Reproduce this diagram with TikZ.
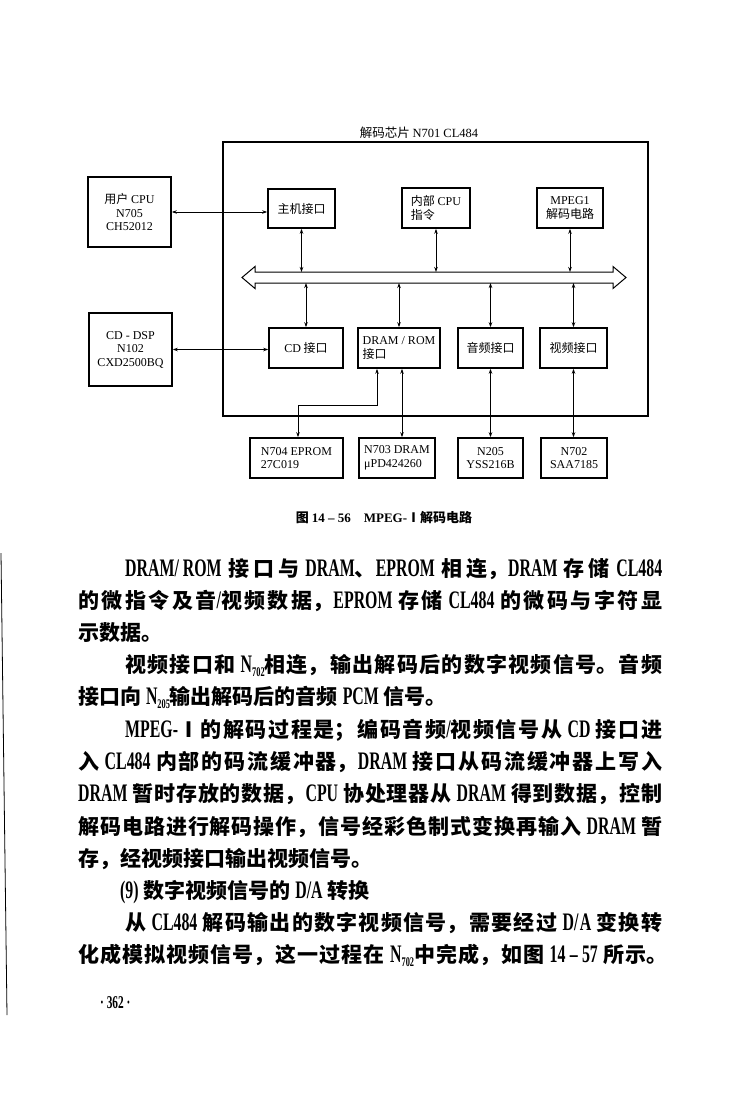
\documentclass[tikz,border=0pt]{standalone}
\usepackage{fontspec}
\setmainfont{Noto Sans CJK SC}
\newfontfamily\lat[Scale=1.2,FakeStretch=0.63]{Liberation Serif}
\newfontfamily\latd{Liberation Serif}
\newcommand\E[1]{{\lat #1}}
\newcommand\D[1]{{\latd #1}}
\newcommand\Nsub[1]{\E{N}\raisebox{-0.22em}{\E{\fontsize{11pt}{11pt}\selectfont #1}}}
\newcommand\jtext[2]{\parbox[b]{#1pt}{\XeTeXlinebreaklocale "zh"\XeTeXlinebreakskip=0pt plus 6pt minus 0.3pt\parfillskip=0pt\relax #2}}
\usetikzlibrary{arrows.meta}
\begin{document}
\begin{tikzpicture}[x=1pt,y=-1pt,
  blk/.style={draw, line width=1.6pt, inner sep=1pt, font=\fontsize{12pt}{13.5pt}\selectfont, align=center},
  link/.style={line width=0.9pt, {Stealth[length=5pt,width=3.5pt]}-{Stealth[length=5pt,width=3.5pt]}},
  body/.style={anchor=base west, inner sep=0pt, font=\fontsize{21pt}{24pt}\selectfont\bfseries}]
\fill[white] (0,0) rectangle (738,1120);

% chip outline
\node[draw, line width=1.4pt, minimum width=425pt, minimum height=274pt] (chip) at (435.5,279) {};
\node[anchor=base, inner sep=0pt, font=\fontsize{12.5pt}{13pt}\selectfont] (title) at (419,137) {解码芯片 \D{N701 CL484}};

% outside blocks
\node[blk, minimum width=83pt, minimum height=70pt] (cpu) at (129.5,212) {用户 \D{CPU}\\\D{N705}\\\D{CH52012}};
\node[blk, minimum width=83pt, minimum height=73pt] (cddsp) at (130.5,349.5) {\D{CD - DSP}\\\D{N102}\\\D{CXD2500BQ}};

% inner blocks
\node[blk, minimum width=67pt, minimum height=39pt] (host) at (301.5,208.5) {主机接口};
\node[blk, minimum width=68pt, minimum height=40pt, align=left] (icpu) at (436,208) {内部 \D{CPU}\\指令};
\node[blk, minimum width=66pt, minimum height=40pt] (mpeg) at (570,208) {\D{MPEG1}\\解码电路};
\node[blk, minimum width=74pt, minimum height=40pt] (cdif) at (306,348) {\D{CD} 接口};
\node[blk, minimum width=82pt, minimum height=40pt, align=left] (dramif) at (399,348) {\D{DRAM / ROM}\\接口};
\node[blk, minimum width=65pt, minimum height=40pt] (audif) at (490.5,348) {音频接口};
\node[blk, minimum width=67pt, minimum height=40pt] (vidif) at (573.5,348) {视频接口};

% memory and output chips
\node[blk, minimum width=93pt, minimum height=40pt, align=left] (eprom) at (296.5,458) {\D{N704 EPROM}\\\D{27C019}};
\node[blk, minimum width=76pt, minimum height=40pt, align=left] (dram) at (397,458) {\D{N703 DRAM}\\\D{μPD424260}};
\node[blk, minimum width=65pt, minimum height=40pt] (n205) at (490.5,458) {\D{N205}\\\D{YSS216B}};
\node[blk, minimum width=66pt, minimum height=40pt] (n702) at (574,458) {\D{N702}\\\D{SAA7185}};

% internal bus
\draw[line width=1pt] (242,277.5) -- (255,266.5) -- (255,272) -- (613,272) -- (613,266.5) -- (626,277.5)
  -- (613,288.5) -- (613,283) -- (255,283) -- (255,288.5) -- cycle;
\coordinate (busN) at (0,272);
\coordinate (busS) at (0,283);

\draw[link] (cpu.east) -- (cpu.east -| host.west);
\draw[link] (host.south) -- (host.south |- busN);
\draw[link] (icpu.south) -- (icpu.south |- busN);
\draw[link] (mpeg.south) -- (mpeg.south |- busN);
\draw[link] (cdif.north |- busS) -- (cdif.north);
\draw[link] (dramif.north |- busS) -- (dramif.north);
\draw[link] (audif.north |- busS) -- (audif.north);
\draw[link] (vidif.north |- busS) -- (vidif.north);
\draw[link] (cddsp.east) -- (cddsp.east -| cdif.west);
\draw[link] ([xshift=-22pt]dramif.south) -- ++(0,37) -| ([xshift=1.5pt]eprom.north);
\draw[link] ([xshift=3pt]dramif.south) -- ([xshift=3pt]dramif.south |- dram.north);
\draw[link] (audif.south) -- (n205.north);
\draw[link] (vidif.south) -- (vidif.south |- n702.north);

\node[anchor=base, inner sep=0pt, font=\fontsize{13pt}{13pt}\selectfont\bfseries] (cap) at (384,522) {图 \D{14 – 56}\quad \D{MPEG-}Ⅰ解码电路};

% body text
\node[body] (l1) at (125,576) {\jtext{537}{\E{DRAM/ROM} 接口与 \E{DRAM}、\E{EPROM} 相连，\E{DRAM} 存储 \E{CL484}}};
\node[body] (l2) at (78,608) {\jtext{584}{的微指令及音\E{/}视频数据，\E{EPROM} 存储 \E{CL484} 的微码与字符显}};
\node[body] (l3) at (78,640) {示数据。};
\node[body] (l4) at (125,672) {\jtext{537}{视频接口和 \Nsub{702}相连，输出解码后的数字视频信号。音频}};
\node[body] (l5) at (78,704) {接口向 \Nsub{205}输出解码后的音频 \E{PCM} 信号。};
\node[body] (l6) at (125,737) {\jtext{537}{\E{MPEG-}Ⅰ的解码过程是；编码音频\E{/}视频信号从 \E{CD} 接口进}};
\node[body] (l7) at (78,769) {\jtext{584}{入 \E{CL484} 内部的码流缓冲器，\E{DRAM} 接口从码流缓冲器上写入}};
\node[body] (l8) at (78,801) {\jtext{584}{\E{DRAM} 暂时存放的数据，\E{CPU} 协处理器从 \E{DRAM} 得到数据，控制}};
\node[body] (l9) at (78,834) {\jtext{584}{解码电路进行解码操作，信号经彩色制式变换再输入 \E{DRAM} 暂}};
\node[body] (l10) at (78,866) {存，经视频接口输出视频信号。};
\node[body] (l11) at (120,898) {\E{(9)} 数字视频信号的 \E{D/A} 转换};
\node[body] (l12) at (125,930) {\jtext{537}{从 \E{CL484} 解码输出的数字视频信号，需要经过 \E{D/A} 变换转}};
\node[body] (l13) at (78,962) {\jtext{589}{化成模拟视频信号，这一过程在 \Nsub{702}中完成，如图 \E{14 – 57} 所示。}};
\node[body, font=\fontsize{15pt}{15pt}\selectfont\bfseries] (pgno) at (100,1008) {\E{·\ 362\ ·}};

% scan edge
\draw[line width=0.8pt] (1,553) -- (7,1015);
\end{tikzpicture}
\end{document}
